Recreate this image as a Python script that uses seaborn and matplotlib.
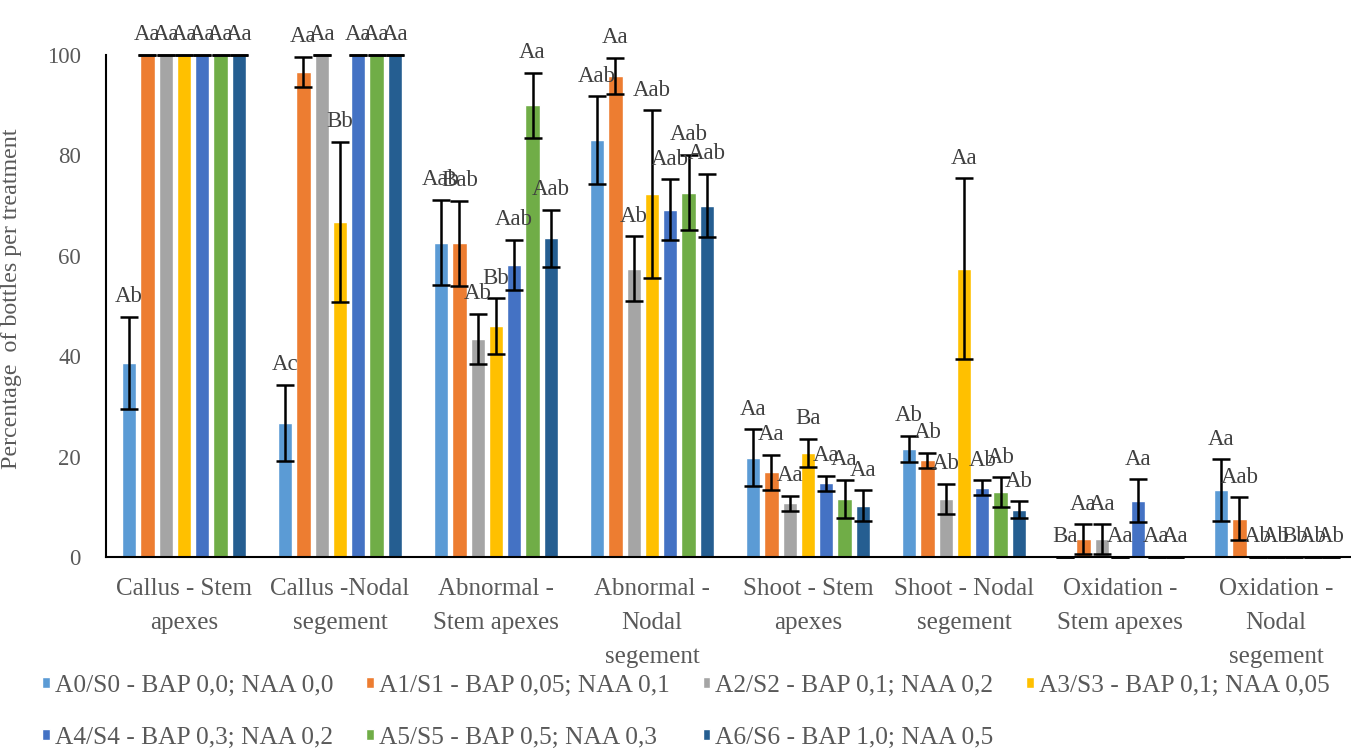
import matplotlib
matplotlib.use("Agg")
import matplotlib.pyplot as plt
import seaborn as sns
import pandas as pd
import numpy as np

categories = [
    "Callus - Stem\napexes",
    "Callus -Nodal\nsegement",
    "Abnormal -\nStem apexes",
    "Abnormal -\nNodal\nsegement",
    "Shoot - Stem\napexes",
    "Shoot - Nodal\nsegement",
    "Oxidation -\nStem apexes",
    "Oxidation -\nNodal\nsegement",
]
treatments = [
    "A0/S0 - BAP 0,0; NAA 0,0",
    "A1/S1 - BAP 0,05; NAA 0,1",
    "A2/S2 - BAP 0,1; NAA 0,2",
    "A3/S3 - BAP 0,1; NAA 0,05",
    "A4/S4 - BAP 0,3; NAA 0,2",
    "A5/S5 - BAP 0,5; NAA 0,3",
    "A6/S6 - BAP 1,0; NAA 0,5",
]

# mean percentage per treatment, one value per category
a0 = [38.7, 26.7, 62.6, 83.1, 19.8, 21.5, 0, 13.3]
a1 = [100, 96.7, 62.5, 95.8, 16.9, 19.3, 3.5, 7.6]
a2 = [100, 100, 43.4, 57.4, 10.7, 11.6, 3.5, 0]
a3 = [100, 66.7, 46.0, 72.3, 20.7, 57.4, 0, 0]
a4 = [100, 100, 58.2, 69.2, 14.7, 13.8, 11.2, 0]
a5 = [100, 100, 90.0, 72.6, 11.6, 12.9, 0, 0]
a6 = [100, 100, 63.5, 70.0, 10.2, 9.4, 0, 0]

# standard errors
e0 = [9.2, 7.6, 8.5, 8.7, 5.6, 2.6, 0, 6.2]
e1 = [0, 3.0, 8.5, 3.6, 3.5, 1.5, 3.0, 4.3]
e2 = [0, 0, 5.0, 6.5, 1.5, 3.0, 3.0, 0]
e3 = [0, 16.0, 5.5, 16.7, 2.8, 18.0, 0, 0]
e4 = [0, 0, 5.0, 6.0, 1.5, 1.5, 4.3, 0]
e5 = [0, 0, 6.5, 7.5, 3.8, 3.0, 0, 0]
e6 = [0, 0, 5.7, 6.3, 3.1, 1.7, 0, 0]

# significance letters
l0 = ["Ab", "Ac", "Aab", "Aab", "Aa", "Ab", "Ba", "Aa"]
l1 = ["Aa", "Aa", "Bab", "Aa", "Aa", "Ab", "Aa", "Aab"]
l2 = ["Aa", "Aa", "Ab", "Ab", "Aa", "Ab", "Aa", "Ab"]
l3 = ["Aa", "Bb", "Bb", "Aab", "Ba", "Aa", "Aa", "Ab"]
l4 = ["Aa", "Aa", "Aab", "Aab", "Aa", "Ab", "Aa", "Bb"]
l5 = ["Aa", "Aa", "Aa", "Aab", "Aa", "Ab", "Aa", "Ab"]
l6 = ["Aa", "Aa", "Aab", "Aab", "Aa", "Ab", "Aa", "Ab"]

values = [a0, a1, a2, a3, a4, a5, a6]
errors = [e0, e1, e2, e3, e4, e5, e6]
letters = [l0, l1, l2, l3, l4, l5, l6]

colors = ["#5B9BD5", "#ED7D31", "#A5A5A5", "#FFC000", "#4472C4", "#70AD47", "#255E91"]

rows = []
for t, vals, errs, labs in zip(treatments, values, errors, letters):
    for c, v, e, lab in zip(categories, vals, errs, labs):
        rows.append({"category": c, "treatment": t, "value": v, "err": e, "letter": lab})
df = pd.DataFrame(rows)

sns.set_theme(style="white")
serif = ["Liberation Serif", "DejaVu Serif"]
plt.rcParams["font.family"] = serif
text_gray = "#595959"

fig = plt.figure(figsize=(13.51, 7.49), dpi=100)
ax = fig.add_axes([106 / 1351, 1 - 557 / 749, 1248 / 1351, (557 - 55) / 749])

sns.barplot(data=df, x="category", y="value", hue="treatment", order=categories,
            hue_order=treatments, palette=colors, width=0.82, gap=0.22,
            errorbar=None, saturation=1, ax=ax, legend=True)

for container, t in zip(ax.containers, treatments):
    sub = df[df["treatment"] == t].set_index("category").loc[categories]
    for patch, (_, r) in zip(container.patches, sub.iterrows()):
        xc = patch.get_x() + patch.get_width() / 2
        h = patch.get_height()
        ax.errorbar(xc, h, yerr=r["err"], color="black", elinewidth=1.8,
                    capsize=6.5, capthick=1.8, zorder=4, clip_on=False)
        ax.text(xc, h + r["err"] + 4.0, r["letter"], ha="center", va="center",
                fontsize=16.5, family=serif, color="#404040", zorder=5, clip_on=False)

ax.set_ylim(0, 100)
ax.set_xlim(-0.5, 7.5)
ax.set_yticks([0, 20, 40, 60, 80, 100])
ax.set_xticks(range(len(categories)), labels=categories, linespacing=1.7)
ax.tick_params(axis="y", direction="out", length=7, width=1.2, color="black",
               labelsize=16.5, labelcolor=text_gray, pad=11)
ax.tick_params(axis="x", length=0, labelsize=18, labelcolor=text_gray, pad=15)
for lab in ax.get_xticklabels() + ax.get_yticklabels():
    lab.set_family(serif)
ax.set_xlabel("")
ax.set_ylabel("Percentage  of bottles per treatment", fontsize=17.3,
              family=serif, color=text_gray)
ax.yaxis.set_label_coords(-0.0673, 0.514)
for side in ["top", "right"]:
    ax.spines[side].set_visible(False)
ax.spines["left"].set_color("black")
ax.spines["bottom"].set_color("black")
ax.spines["left"].set_linewidth(1.5)
ax.spines["bottom"].set_linewidth(1.5)

# legend filled row by row: four entries on the first line, three on the second
handles, labels = ax.get_legend_handles_labels()
ax.legend_.remove()
order = [0, 4, 1, 5, 2, 6, 3]
fig.legend([handles[i] for i in order], [labels[i] for i in order],
           loc="upper left", bbox_to_anchor=(42 / 1351, 1 - 675 / 749),
           ncol=4, frameon=False, labelcolor=text_gray,
           prop={"family": serif, "size": 18.25},
           handlelength=0.3, handleheight=0.3, handletextpad=0.2,
           columnspacing=1.3, labelspacing=1.17, borderaxespad=0, borderpad=0)

fig.savefig("out.png", dpi=100)
